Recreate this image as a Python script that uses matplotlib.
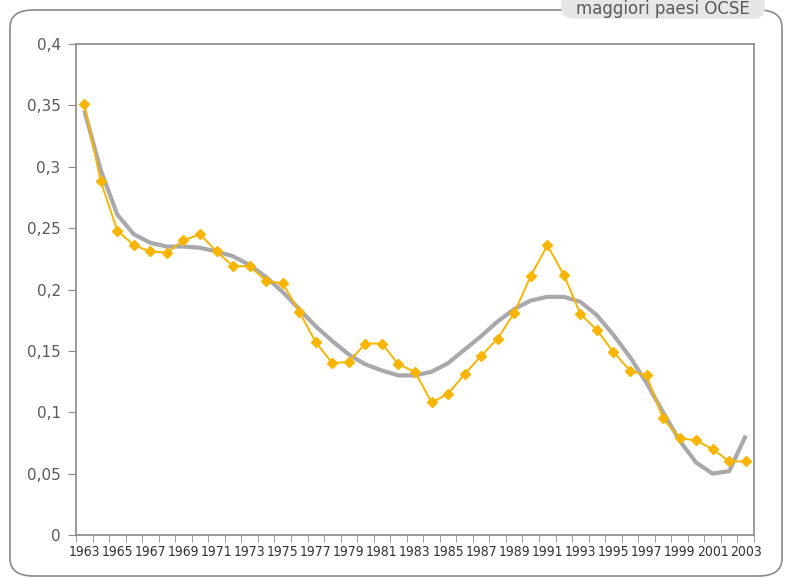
import numpy as np
import matplotlib
matplotlib.use("Agg")
import matplotlib.pyplot as plt
from matplotlib.patches import FancyBboxPatch

# years on the category axis
years = list(range(1963, 2004))

# yearly values (yellow series)
values = [0.351, 0.288, 0.248, 0.236, 0.231, 0.230, 0.240, 0.245, 0.231, 0.219,
          0.219, 0.207, 0.205, 0.182, 0.157, 0.140, 0.141, 0.156, 0.156, 0.139,
          0.133, 0.108, 0.115, 0.131, 0.146, 0.160, 0.181, 0.211, 0.236, 0.212,
          0.180, 0.167, 0.149, 0.134, 0.130, 0.095, 0.079, 0.077, 0.070, 0.060,
          0.060]

# trend line at each year (grey)
trend = [0.346, 0.297, 0.261, 0.245, 0.238, 0.235, 0.235, 0.234, 0.231, 0.227,
         0.220, 0.210, 0.198, 0.184, 0.170, 0.158, 0.147, 0.139, 0.134, 0.130,
         0.130, 0.133, 0.140, 0.151, 0.162, 0.174, 0.184, 0.191, 0.194, 0.194,
         0.190, 0.179, 0.163, 0.145, 0.124, 0.100, 0.077, 0.059, 0.050, 0.052,
         0.081]

yticks = [0, 0.05, 0.1, 0.15, 0.2, 0.25, 0.3, 0.35, 0.4]
ytick_labels = ["0", "0,05", "0,1", "0,15", "0,2", "0,25", "0,3", "0,35", "0,4"]

GREY = "#8a8a8a"
TEXT = "#5a5a5a"
YELLOW = "#F7B500"
TREND = "#a9a9ad"

fig = plt.figure(figsize=(7.88, 5.79), dpi=100)

# outer rounded frame
frame = FancyBboxPatch((10 / 788, 3 / 579), 772 / 788, 566 / 579,
                       boxstyle="round,pad=0,rounding_size=0.03",
                       transform=fig.transFigure, fill=False,
                       edgecolor=GREY, linewidth=1.2, zorder=0)
fig.patches.append(frame)

# label tab at top right, partly cut by the image edge
tab = FancyBboxPatch((562 / 788, 1 - 18 / 579), 202 / 788, 40 / 579,
                     boxstyle="round,pad=0,rounding_size=0.015",
                     transform=fig.transFigure, facecolor="#e6e6e8",
                     edgecolor="#e6e6e8", linewidth=1, zorder=1)
fig.patches.append(tab)
fig.text(663 / 788, 1 - 9 / 579, "maggiori paesi OCSE", ha="center", va="center",
         fontsize=12, color="#5a5a5a", zorder=2)

ax = fig.add_axes([76 / 788, 1 - 535 / 579, 678 / 788, 491 / 579])
x = np.arange(len(years))

ax.plot(x, trend, color=TREND, linewidth=3, solid_capstyle="butt", zorder=2)
ax.plot(x, values, color=YELLOW, linewidth=1.4, marker="D", markersize=5.5,
        markeredgecolor=YELLOW, zorder=3)

ax.set_xlim(-0.5, len(years) - 0.5)
ax.set_ylim(0, 0.4)

ax.set_yticks(yticks)
ax.set_yticklabels(ytick_labels, fontsize=11, color=TEXT)
ax.tick_params(axis="y", direction="out", length=6, color=GREY, pad=5)

ax.set_xticks(x[::2])
ax.set_xticklabels([str(y) for y in years[::2]], fontsize=10, color="#333333",
                   fontstretch="condensed")
ax.tick_params(axis="x", which="major", length=0, pad=7)
ax.set_xticks(np.arange(-0.5, len(years)), minor=True)
ax.tick_params(axis="x", which="minor", direction="out", length=5, color=GREY)

for s in ax.spines.values():
    s.set_color(GREY)
    s.set_linewidth(1.2)

fig.savefig("out.png", dpi=100)
